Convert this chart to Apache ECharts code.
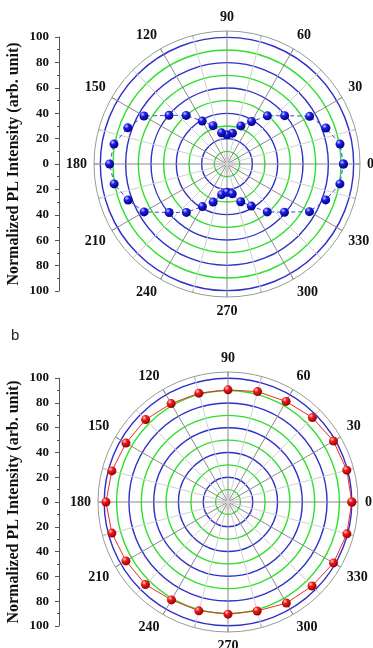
<!DOCTYPE html>
<html>
<head>
<meta charset="utf-8">
<script src="https://cdn.jsdelivr.net/npm/echarts@6/dist/echarts.min.js"></script>
<style>
  html, body { margin: 0; padding: 0; background: #fff; }
  #chart { width: 373px; height: 648px; }
</style>
</head>
<body>
<div id="chart"></div>
<script>
// panel a: angles every 10 deg, normalized intensity
const anglesA = [0, 10, 20, 30, 40, 50, 60, 70, 80, 90, 100, 110, 120, 130, 140, 150, 160, 170,
  180, 190, 200, 210, 220, 230, 240, 250, 260, 270, 280, 290, 300, 310, 320, 330, 340, 350]
const valuesA = [91.9, 90.6, 83.1, 75.3, 59.4, 49.6, 38.7, 32.0, 24.7, 23.1, 25.0, 32.2, 39.1, 50.1, 59.8, 75.7, 83.4, 90.6,
  92.7, 90.5, 83.1, 75.6, 59.6, 49.9, 38.8, 32.0, 24.6, 22.3, 23.9, 31.7, 38.4, 49.4, 59.2, 75.2, 82.9, 90.5]

// panel b: angles every 15 deg
const anglesB = [0, 15, 30, 45, 60, 75, 90, 105, 120, 135, 150, 165,
  180, 195, 210, 225, 240, 255, 270, 285, 300, 315, 330, 345]
const valuesB = [100.0, 99.3, 98.4, 96.4, 93.8, 92.3, 90.6, 91.0, 91.8, 94.1, 95.2, 97.1,
  98.6, 97.1, 95.2, 94.3, 91.3, 91.0, 90.6, 91.1, 94.3, 96.0, 98.4, 99.4]

const angleLabels = [0, 30, 60, 90, 120, 150, 180, 210, 240, 270, 300, 330]
const radiusTicks = [100, 80, 60, 40, 20, 0, 20, 40, 60, 80, 100]

const serif = 'Liberation Serif'
const myChart = echarts.init(document.getElementById('chart'))

// ring colours: tick 0, 10 .. 100, 105
const ringColors = ['transparent']
for (let i = 1; i <= 10; i++) ringColors.push(i % 2 ? '#2ee02e' : '#2f2fc8')
ringColors.push('transparent')

const closed = (vals, angs) => {
  const d = vals.map((v, i) => [v, angs[i]])
  d.push(d[0])
  return d
}

const ball = (hi, mid, dark) => ({
  type: 'radial', x: 0.35, y: 0.3, r: 0.75,
  colorStops: [
    { offset: 0, color: hi },
    { offset: 0.35, color: mid },
    { offset: 1, color: dark }
  ]
})

const angleAxis = (idx) => ({
  polarIndex: idx,
  type: 'value',
  min: 0,
  max: 360,
  interval: 15,
  startAngle: 0,
  clockwise: false,
  axisLine: { lineStyle: { color: '#999', width: 1 } },
  axisTick: { show: true, inside: true, length: 4, lineStyle: { color: '#999' } },
  axisLabel: {
    margin: 7,
    fontFamily: serif,
    fontWeight: 'bold',
    fontSize: 14,
    color: '#111',
    formatter: v => angleLabels.indexOf(v) >= 0 ? String(v) : ''
  },
  splitLine: { show: true, lineStyle: { color: ['#8a8a8a', '#d0d0d0'], width: 1 } }
})

const radiusAxis = (idx) => ({
  polarIndex: idx,
  type: 'value',
  min: 0,
  max: 105,
  interval: 10,
  axisLine: { show: false },
  axisTick: { show: false },
  axisLabel: { show: false },
  splitLine: { show: true, lineStyle: { color: ringColors, width: 1.4 } }
})

const sideAxis = (idx) => ({
  gridIndex: idx,
  type: 'value',
  min: -100,
  max: 100,
  interval: 20,
  name: 'Normalized PL Intensity (arb. unit)',
  nameLocation: 'middle',
  nameGap: 37,
  nameTextStyle: { fontFamily: serif, fontWeight: 'bold', fontSize: 16, color: '#111' },
  axisLine: { show: true, lineStyle: { color: '#555' } },
  axisTick: { show: true, length: 4, lineStyle: { color: '#555' } },
  minorTick: { show: true, splitNumber: 2, length: 2, lineStyle: { color: '#555' } },
  splitLine: { show: false },
  axisLabel: {
    margin: 10,
    fontFamily: serif,
    fontWeight: 'bold',
    fontSize: 13,
    color: '#111',
    formatter: v => String(radiusTicks[(100 - v) / 20])
  }
})

myChart.setOption({
  animation: false,
  polar: [
    { center: [227, 164], radius: 133 },
    { center: [228, 502], radius: 130 }
  ],
  angleAxis: [angleAxis(0), angleAxis(1)],
  radiusAxis: [radiusAxis(0), radiusAxis(1)],
  grid: [
    { left: 59, width: 1, top: 37, height: 254 },
    { left: 59, width: 1, top: 378, height: 248 }
  ],
  xAxis: [
    { gridIndex: 0, type: 'value', show: false },
    { gridIndex: 1, type: 'value', show: false }
  ],
  yAxis: [sideAxis(0), sideAxis(1)],
  graphic: [
    { type: 'text', x: 12, y: 2, style: { text: 'a', font: '15px Liberation Sans', fill: '#222', verticalAlign: 'bottom' } },
    { type: 'text', x: 11, y: 343, style: { text: 'b', font: '15px Liberation Sans', fill: '#222', verticalAlign: 'bottom' } }
  ],
  series: [
    {
      type: 'line',
      coordinateSystem: 'polar',
      polarIndex: 0,
      data: closed(valuesA, anglesA),
      symbol: 'circle',
      symbolSize: 9,
      lineStyle: { color: '#3a46e0', width: 1, type: [4, 3] },
      itemStyle: { color: ball('#c8ccff', '#1c1ce6', '#00007a') },
      z: 5
    },
    {
      type: 'line',
      coordinateSystem: 'polar',
      polarIndex: 1,
      data: closed(valuesB, anglesB),
      symbol: 'circle',
      symbolSize: 9,
      lineStyle: { color: '#ee2a2a', width: 1 },
      itemStyle: { color: ball('#ffd0d0', '#ee1a1a', '#8a0000') },
      z: 5
    }
  ]
})
</script>
</body>
</html>
